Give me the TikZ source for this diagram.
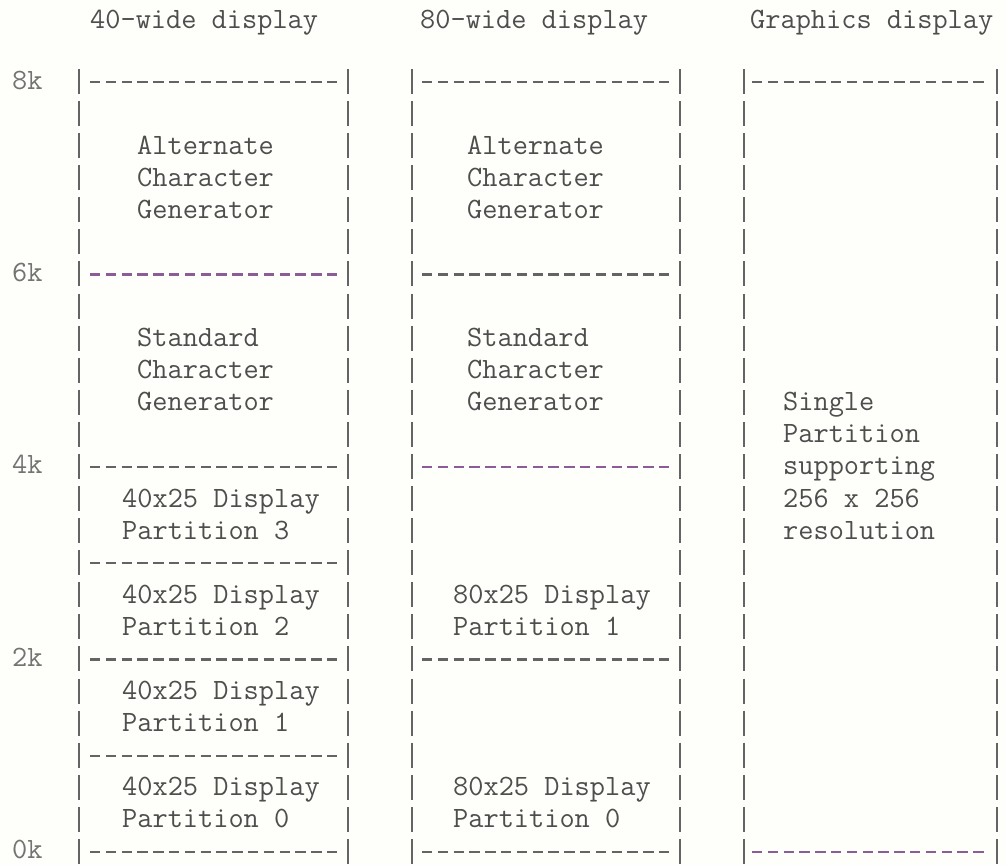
\documentclass[tikz,border=0pt]{standalone}
\usepackage{tikz}
\usetikzlibrary{positioning}

\definecolor{typegray}{RGB}{78,78,78}
\definecolor{axisgray}{RGB}{115,115,115}
\definecolor{bargray}{RGB}{100,100,100}
\definecolor{inkpurple}{RGB}{140,92,150}
\definecolor{paper}{RGB}{254,254,250}

% row height of the typed sheet
\newcommand{\rowy}[1]{82+32.08*#1}

\begin{document}
\begin{tikzpicture}[x=1pt, y=-1pt,
    txt/.style={anchor=base west, inner sep=0pt, text=typegray, font=\ttfamily\fontsize{29.5}{32}\selectfont},
    axis/.style={txt, text=axisgray},
    bar/.style={draw=bargray, line width=1.6pt, dash pattern=on 25pt off 7.08pt},
    rule/.style={draw=bargray, line width=2.1pt, dash pattern=on 10.3pt off 5.5pt}]
    % Sheet
    \useasboundingbox[fill=paper] (0,0) rectangle (1006,865);
    % Headings
    \node[txt] (head40) at (90,28) {40-wide display};
    \node[txt] (head80) at (420,28) {80-wide display};
    \node[txt] (headgr) at (750,28) {Graphics display};
    % Address scale
    \node[axis] (k8) at (12,{\rowy{0}+7}) {8k};
    \node[axis] (k6) at (12,{\rowy{6}+7}) {6k};
    \node[axis] (k4) at (12,{\rowy{12}+7}) {4k};
    \node[axis] (k2) at (12,{\rowy{18}+7}) {2k};
    \node[axis] (k0) at (12,{\rowy{24}+7}) {0k};
    % Side bars
    \draw[bar] (79,69) -- (79,865);
    \draw[bar] (348,69) -- (348,865);
    \draw[bar] (412,69) -- (412,865);
    \draw[bar] (680,69) -- (680,865);
    \draw[bar] (744,69) -- (744,865);
    \draw[bar] (997,69) -- (997,865);
    % 40-wide display
    \draw[rule] (90,{\rowy{0}}) -- (337.3,{\rowy{0}});
    \draw[rule, draw=inkpurple] (90,{\rowy{6}}) -- (337.3,{\rowy{6}});
    \draw[rule] (90,{\rowy{12}}) -- (337.3,{\rowy{12}});
    \draw[rule] (90,{\rowy{15}}) -- (337.3,{\rowy{15}});
    \draw[rule] (90,{\rowy{18}}) -- (337.3,{\rowy{18}});
    \draw[rule] (90,{\rowy{21}}) -- (337.3,{\rowy{21}});
    \draw[rule] (90,{\rowy{24}}) -- (337.3,{\rowy{24}});
    \node[txt] (altA) at (137,{\rowy{2}+8}) {Alternate};
    \node[txt] (altB) at (137,{\rowy{3}+8}) {Character};
    \node[txt] (altC) at (137,{\rowy{4}+8}) {Generator};
    \node[txt] (stdA) at (137,{\rowy{8}+8}) {Standard};
    \node[txt] (stdB) at (137,{\rowy{9}+8}) {Character};
    \node[txt] (stdC) at (137,{\rowy{10}+8}) {Generator};
    \node[txt] (pt3A) at (122,{\rowy{13}+8}) {40x25 Display};
    \node[txt] (pt3B) at (122,{\rowy{14}+8}) {Partition 3};
    \node[txt] (pt2A) at (122,{\rowy{16}+8}) {40x25 Display};
    \node[txt] (pt2B) at (122,{\rowy{17}+8}) {Partition 2};
    \node[txt] (pt1A) at (122,{\rowy{19}+8}) {40x25 Display};
    \node[txt] (pt1B) at (122,{\rowy{20}+8}) {Partition 1};
    \node[txt] (pt0A) at (122,{\rowy{22}+8}) {40x25 Display};
    \node[txt] (pt0B) at (122,{\rowy{23}+8}) {Partition 0};
    % 80-wide display
    \draw[rule] (422,{\rowy{0}}) -- (669.3,{\rowy{0}});
    \draw[rule] (422,{\rowy{6}}) -- (669.3,{\rowy{6}});
    \draw[rule, draw=inkpurple] (422,{\rowy{12}}) -- (669.3,{\rowy{12}});
    \draw[rule] (422,{\rowy{18}}) -- (669.3,{\rowy{18}});
    \draw[rule] (422,{\rowy{24}}) -- (669.3,{\rowy{24}});
    \node[txt] (altwA) at (467,{\rowy{2}+8}) {Alternate};
    \node[txt] (altwB) at (467,{\rowy{3}+8}) {Character};
    \node[txt] (altwC) at (467,{\rowy{4}+8}) {Generator};
    \node[txt] (stdwA) at (467,{\rowy{8}+8}) {Standard};
    \node[txt] (stdwB) at (467,{\rowy{9}+8}) {Character};
    \node[txt] (stdwC) at (467,{\rowy{10}+8}) {Generator};
    \node[txt] (pw1A) at (453,{\rowy{16}+8}) {80x25 Display};
    \node[txt] (pw1B) at (453,{\rowy{17}+8}) {Partition 1};
    \node[txt] (pw0A) at (453,{\rowy{22}+8}) {80x25 Display};
    \node[txt] (pw0B) at (453,{\rowy{23}+8}) {Partition 0};
    % Graphics display
    \draw[rule] (752,{\rowy{0}}) -- (983.5,{\rowy{0}});
    \draw[rule, draw=inkpurple] (752,{\rowy{24}}) -- (983.5,{\rowy{24}});
    \node[txt] (grA) at (783,{\rowy{10}+8}) {Single};
    \node[txt] (grB) at (783,{\rowy{11}+8}) {Partition};
    \node[txt] (grC) at (783,{\rowy{12}+8}) {supporting};
    \node[txt] (grD) at (783,{\rowy{13}+8}) {256 x 256};
    \node[txt] (grE) at (783,{\rowy{14}+8}) {resolution};
\end{tikzpicture}
\end{document}
